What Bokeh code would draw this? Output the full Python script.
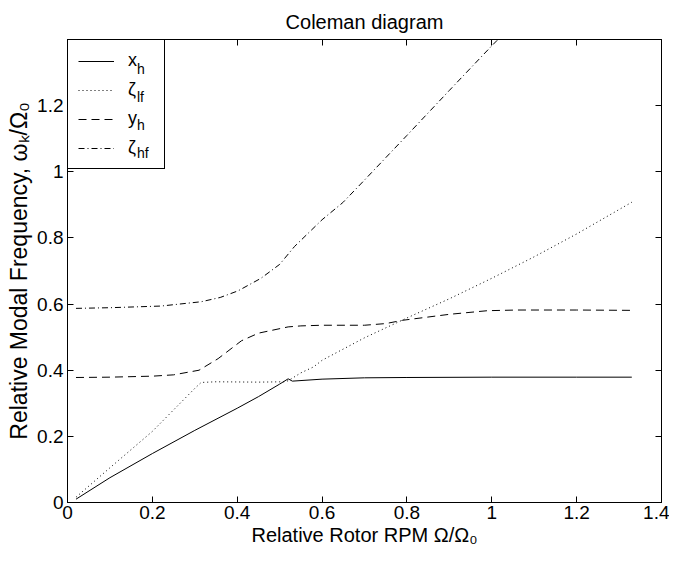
import math
from bokeh.plotting import figure
from bokeh.models import Range1d, FixedTicker, LinearAxis, Legend, LegendItem, Title
from bokeh.core.properties import value
from bokeh.embed import file_html
from bokeh.resources import INLINE

FONT = "Liberation Sans"

# ---------------- data ----------------
xh_x = [0.02, 0.1, 0.2, 0.3, 0.4, 0.45, 0.5, 0.52, 0.53, 0.6, 0.7, 0.8, 1.0, 1.2, 1.33]
xh_y = [0.01, 0.075, 0.148, 0.218, 0.285, 0.32, 0.358, 0.374, 0.367, 0.373, 0.377, 0.378, 0.379, 0.379, 0.379]

zlf_x = [0.02, 0.1, 0.2, 0.3, 0.315, 0.35, 0.45, 0.51, 0.52, 0.55, 0.58, 0.6, 0.7, 0.8, 0.9, 1.0, 1.1, 1.2, 1.33]
zlf_y = [0.016, 0.105, 0.215, 0.345, 0.363, 0.365, 0.364, 0.365, 0.368, 0.392, 0.41, 0.43, 0.498, 0.558, 0.616, 0.678, 0.743, 0.812, 0.908]

yh_x = [0.02, 0.1, 0.2, 0.25, 0.31, 0.355, 0.41, 0.45, 0.52, 0.55, 0.6, 0.7, 0.75, 0.79, 0.9, 0.99, 1.06, 1.2, 1.33]
yh_y = [0.378, 0.379, 0.382, 0.386, 0.4, 0.435, 0.489, 0.512, 0.531, 0.534, 0.536, 0.536, 0.541, 0.551, 0.569, 0.58, 0.582, 0.582, 0.581]

zhf_x = [0.02, 0.1, 0.22, 0.315, 0.36, 0.402, 0.456, 0.5, 0.535, 0.6, 0.649, 0.7, 0.8, 0.9, 1.0, 1.03]
zhf_y = [0.587, 0.589, 0.594, 0.607, 0.62, 0.64, 0.678, 0.72, 0.774, 0.855, 0.907, 0.975, 1.11, 1.246, 1.381, 1.42]

x_ticks = [0, 0.2, 0.4, 0.6, 0.8, 1.0, 1.2, 1.4]
x_tick_labels = ["0", "0.2", "0.4", "0.6", "0.8", "1", "1.2", "1.4"]
y_ticks = [0, 0.2, 0.4, 0.6, 0.8, 1.0, 1.2]
y_tick_labels = ["0", "0.2", "0.4", "0.6", "0.8", "1", "1.2"]

legend_main = ["x", "ζ", "y", "ζ"]
legend_subs = ["h", "lf", "h", "hf"]

title_text = "Coleman diagram"
xlabel = "Relative Rotor RPM Ω/Ω₀"
ylabel = "Relative Modal Frequency, ωₖ/Ω₀"

# ---------------- figure ----------------
FH = 463  # frame height in px
p = figure(width=669, height=557, x_range=Range1d(0, 1.4), y_range=Range1d(0, 1.4),
           output_backend="svg", toolbar_location=None, title=None,
           min_border_left=67, min_border_right=8, min_border_top=39, min_border_bottom=55)
p.grid.visible = False
p.outline_line_color = "black"
p.outline_line_width = 1
p.background_fill_color = "white"
p.border_fill_color = "white"

def style_axis(ax, ticks, labels, show_labels, standoff):
    ax.ticker = FixedTicker(ticks=ticks)
    ax.major_label_overrides = {t: l for t, l in zip(ticks, labels)}
    ax.major_tick_in = 6
    ax.major_tick_out = 0
    ax.minor_tick_in = 0
    ax.minor_tick_out = 0
    ax.axis_line_color = "black"
    ax.major_tick_line_color = "black"
    ax.major_label_text_font = FONT
    ax.major_label_text_color = "black"
    ax.major_label_standoff = standoff
    if show_labels:
        ax.major_label_text_font_size = "19px"
    else:
        ax.major_label_text_font_size = "1px"
        ax.major_label_text_alpha = 0
    ax.axis_label_text_font = FONT
    ax.axis_label_text_font_style = "normal"
    ax.axis_label_text_color = "black"

style_axis(p.xaxis[0], x_ticks, x_tick_labels, True, 3)
style_axis(p.yaxis[0], y_ticks, y_tick_labels, True, 4)
p.xaxis[0].axis_label = xlabel
p.xaxis[0].axis_label_text_font_size = "20px"
p.xaxis[0].axis_label_standoff = 2
p.yaxis[0].axis_label = ylabel
p.yaxis[0].axis_label_text_font_size = "23px"
p.yaxis[0].axis_label_standoff = 2

top_ax = LinearAxis()
right_ax = LinearAxis()
style_axis(top_ax, x_ticks, x_tick_labels, False, 0)
style_axis(right_ax, y_ticks, y_tick_labels, False, 0)
p.add_layout(top_ax, "above")
p.add_layout(right_ax, "right")

p.add_layout(Title(text=title_text, align="center", text_font=FONT, text_font_size="20px",
                   text_font_style="normal", text_color="black", standoff=14), "above")

r1 = p.line(xh_x, xh_y, line_color="black", line_width=1)
r2 = p.line(zlf_x, zlf_y, line_color="black", line_width=1, line_dash="1 3")
r3 = p.line(yh_x, yh_y, line_color="black", line_width=1, line_dash="8 5")
r4 = p.line(zhf_x, zhf_y, line_color="black", line_width=1, line_dash="6 3 1 3")

common = dict(padding=10, spacing=8, glyph_height=20, glyph_width=36, label_height=20,
              label_text_font=FONT, label_text_color="black", margin=0)

legend = Legend(items=[LegendItem(label=value(m), renderers=[r]) for m, r in zip(legend_main, [r1, r2, r3, r4])],
                location="top_left", label_width=26, label_standoff=14,
                border_line_color="black", border_line_width=1, border_line_alpha=1,
                background_fill_color="white", background_fill_alpha=1,
                label_text_font_size="18px", **common)
p.add_layout(legend)

# subscripts of the legend entries: a transparent second legend, shifted right and down
blank = p.line(x=[], y=[], line_alpha=0)
LEG_H = 2 * 10 + 4 * 20 + 3 * 8
sub_legend = Legend(items=[LegendItem(label=value(s), renderers=[blank]) for s in legend_subs],
                    location=(0, FH - LEG_H - 10), label_width=10, label_standoff=24,
                    border_line_alpha=0, background_fill_alpha=0,
                    label_text_font_size="14px", **common)
p.add_layout(sub_legend)

open("out.html", "w").write(file_html(p, INLINE))
